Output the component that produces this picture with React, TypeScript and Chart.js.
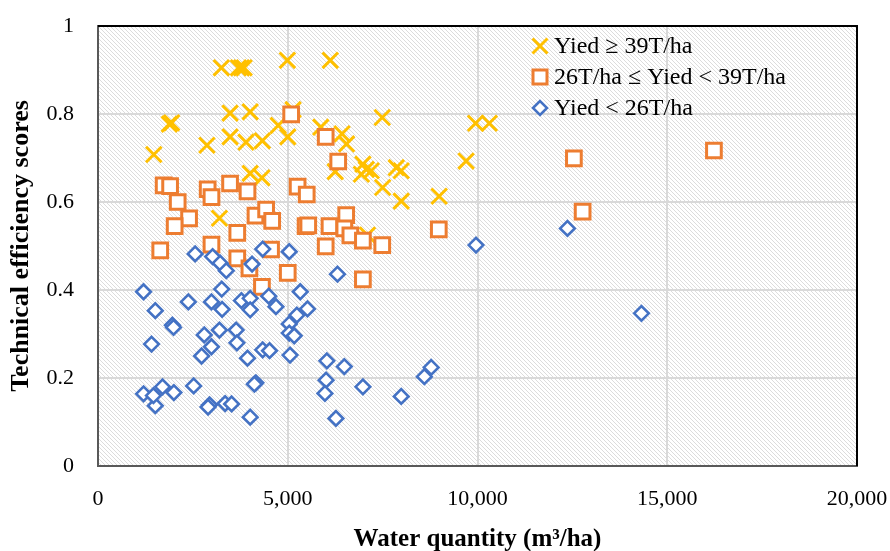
import React, { useEffect, useRef } from 'react';
import { Chart, registerables } from 'chart.js';

Chart.register(...registerables);

// ---- Data (water quantity m3/ha, technical efficiency score) ----
const highWater = [3250, 3700, 3780, 3850, 4990, 6120, 3480, 4010, 1940, 1880, 1470, 2870, 3480, 3900, 4330, 4750, 5000, 5140, 5870, 4010, 4320, 3200, 7490, 9950, 10310, 9700, 6430, 6550, 6980, 7070, 6940, 7200, 7860, 7990, 7500, 7990, 8990, 6250, 7100];
const highScore = [0.905, 0.905, 0.905, 0.905, 0.922, 0.922, 0.802, 0.805, 0.780, 0.777, 0.708, 0.729, 0.748, 0.736, 0.739, 0.774, 0.748, 0.810, 0.770, 0.665, 0.655, 0.563, 0.792, 0.779, 0.779, 0.693, 0.755, 0.732, 0.686, 0.674, 0.663, 0.671, 0.678, 0.671, 0.633, 0.602, 0.613, 0.669, 0.525];

const midWater = [5090, 6000, 6330, 1730, 1900, 2100, 2890, 2990, 3480, 3940, 5260, 5500, 2400, 2020, 3670, 4150, 4430, 4590, 5470, 5540, 6100, 6540, 6490, 6650, 6980, 7490, 6000, 8980, 1640, 2990, 3670, 3990, 4320, 4560, 5000, 6980, 12540, 16230, 12770];
const midScore = [0.799, 0.748, 0.692, 0.638, 0.636, 0.600, 0.629, 0.611, 0.642, 0.624, 0.635, 0.617, 0.563, 0.545, 0.530, 0.569, 0.583, 0.557, 0.545, 0.547, 0.545, 0.570, 0.540, 0.524, 0.512, 0.502, 0.499, 0.538, 0.490, 0.503, 0.472, 0.449, 0.407, 0.492, 0.439, 0.424, 0.699, 0.717, 0.578];

const lowWater = [2560, 3020, 3220, 3380, 4060, 4340, 5040, 6310, 1200, 1510, 2380, 3260, 2990, 3270, 3780, 4010, 4010, 4500, 4690, 5330, 5520, 1960, 1990, 2800, 3200, 3640, 2990, 2730, 3660, 1410, 3940, 4340, 4520, 5060, 5040, 5240, 5040, 5170, 6030, 6010, 5980, 4160, 4120, 1200, 1510, 1700, 2000, 1460, 2520, 2940, 2900, 3350, 3520, 4010, 9960, 6490, 6980, 7990, 8600, 8780, 6270, 12370, 14320];
const lowScore = [0.482, 0.476, 0.461, 0.444, 0.459, 0.493, 0.487, 0.436, 0.396, 0.353, 0.373, 0.402, 0.373, 0.356, 0.376, 0.381, 0.355, 0.386, 0.362, 0.396, 0.357, 0.320, 0.315, 0.298, 0.309, 0.309, 0.271, 0.250, 0.280, 0.277, 0.245, 0.264, 0.262, 0.252, 0.323, 0.343, 0.302, 0.296, 0.239, 0.195, 0.165, 0.189, 0.186, 0.164, 0.137, 0.180, 0.167, 0.160, 0.182, 0.139, 0.134, 0.142, 0.141, 0.111, 0.502, 0.226, 0.180, 0.158, 0.203, 0.224, 0.108, 0.540, 0.347];

const seriesLabels = ['Yied \u2265 39T/ha', '26T/ha \u2264 Yied < 39T/ha', 'Yied < 26T/ha'];
const xTitle = 'Water quantity (m\u00B3/ha)';
const yTitle = 'Technical efficiency scores';

const YELLOW = '#FFC000';
const ORANGE = '#ED7D31';
const BLUE = '#4472C4';
const FONT = "'Liberation Serif', 'Times New Roman', serif";

const toPoints = (xs: number[], ys: number[]) => xs.map((x, i) => ({ x, y: ys[i] }));

function makeHatch(): CanvasPattern | string {
  const c = document.createElement('canvas');
  c.width = 4;
  c.height = 4;
  const g = c.getContext('2d');
  if (!g) return '#f0f0f0';
  g.fillStyle = '#ffffff';
  g.fillRect(0, 0, 4, 4);
  g.fillStyle = '#dcdcdc';
  for (let i = 0; i < 4; i++) g.fillRect(i, i, 1, 1);
  return g.createPattern(c, 'repeat') || '#f0f0f0';
}

function drawMarker(ctx: CanvasRenderingContext2D, kind: number, x: number, y: number) {
  ctx.save();
  if (kind === 0) {
    ctx.strokeStyle = YELLOW;
    ctx.lineWidth = 3;
    const d = 7.5;
    ctx.beginPath();
    ctx.moveTo(x - d, y - d);
    ctx.lineTo(x + d, y + d);
    ctx.moveTo(x - d, y + d);
    ctx.lineTo(x + d, y - d);
    ctx.stroke();
  } else if (kind === 1) {
    ctx.strokeStyle = ORANGE;
    ctx.fillStyle = '#fff';
    ctx.lineWidth = 3;
    ctx.beginPath();
    ctx.rect(x - 7, y - 7, 14, 14);
    ctx.fill();
    ctx.stroke();
  } else {
    ctx.strokeStyle = BLUE;
    ctx.fillStyle = '#fff';
    ctx.lineWidth = 2.5;
    const r = 7;
    ctx.beginPath();
    ctx.moveTo(x - r, y);
    ctx.lineTo(x, y - r);
    ctx.lineTo(x + r, y);
    ctx.lineTo(x, y + r);
    ctx.closePath();
    ctx.fill();
    ctx.stroke();
  }
  ctx.restore();
}

export default function App() {
  const ref = useRef<HTMLCanvasElement>(null);

  useEffect(() => {
    if (!ref.current) return;
    const hatch = makeHatch();

    const plotDeco = {
      id: 'plotDeco',
      beforeDraw(chart: any) {
        const { ctx, chartArea } = chart;
        const { left, top, right, bottom } = chartArea;
        ctx.save();
        ctx.fillStyle = hatch;
        ctx.fillRect(left, top, right - left, bottom - top);
        ctx.restore();
      },
      afterDatasetsDraw(chart: any) {
        const { ctx, chartArea } = chart;
        const { left, top, right, bottom } = chartArea;
        ctx.save();
        ctx.strokeStyle = '#000';
        ctx.lineWidth = 2;
        ctx.beginPath();
        ctx.moveTo(left, top);
        ctx.lineTo(right, top);
        ctx.lineTo(right, bottom);
        ctx.stroke();
        ctx.restore();
      },
      afterDraw(chart: any) {
        const ctx: CanvasRenderingContext2D = chart.ctx;
        const mx = 540;
        const tx = 554;
        const rows = [46, 77, 108];
        ctx.save();
        ctx.font = `24px ${FONT}`;
        ctx.fillStyle = '#000';
        ctx.textBaseline = 'middle';
        ctx.textAlign = 'left';
        rows.forEach((ry, i) => {
          drawMarker(ctx, i, mx, ry);
          ctx.fillText(seriesLabels[i], tx, ry + 1);
        });
        ctx.restore();
      },
    };

    const chart = new Chart(ref.current, {
      type: 'scatter',
      data: {
        datasets: [
          {
            label: seriesLabels[0],
            data: toPoints(highWater, highScore),
            pointStyle: 'crossRot',
            pointRadius: 11,
            pointBorderWidth: 3,
            borderColor: YELLOW,
            backgroundColor: YELLOW,
            order: 3,
          },
          {
            label: seriesLabels[1],
            data: toPoints(midWater, midScore),
            pointStyle: 'rect',
            pointRadius: 10.4,
            pointBorderWidth: 3,
            borderColor: ORANGE,
            backgroundColor: '#ffffff',
            order: 2,
          },
          {
            label: seriesLabels[2],
            data: toPoints(lowWater, lowScore),
            pointStyle: 'rectRot',
            pointRadius: 7.3,
            pointBorderWidth: 2.6,
            borderColor: BLUE,
            backgroundColor: '#ffffff',
            order: 1,
          },
        ],
      } as any,
      options: {
        responsive: false,
        animation: false,
        devicePixelRatio: 1,
        layout: { padding: { left: 0, top: 26, right: 33, bottom: 0 } },
        plugins: {
          legend: { display: false },
          tooltip: { enabled: false },
        },
        scales: {
          x: {
            type: 'linear',
            min: 0,
            max: 20000,
            ticks: {
              stepSize: 5000,
              padding: 20,
              color: '#000',
              maxRotation: 0,
              font: { family: FONT, size: 22 },
            },
            grid: { color: '#d9d9d9', lineWidth: 2, drawTicks: false },
            border: { color: '#595959', width: 2 },
            title: {
              display: true,
              text: xTitle,
              color: '#000',
              font: { family: FONT, size: 25, weight: 'bold', lineHeight: 0.9 },
              padding: { top: 0, bottom: 0 },
            },
            afterFit(scale: any) {
              scale.height = 85;
              scale.paddingLeft = 0;
              scale.paddingRight = 0;
            },
          },
          y: {
            type: 'linear',
            min: 0,
            max: 1,
            ticks: {
              stepSize: 0.2,
              padding: 24,
              color: '#000',
              font: { family: FONT, size: 22 },
              callback: (v: number) => String(Number(Number(v).toFixed(1))),
            },
            grid: { color: '#d9d9d9', lineWidth: 2, drawTicks: false },
            border: { color: '#595959', width: 2 },
            title: {
              display: true,
              text: yTitle,
              color: '#000',
              font: { family: FONT, size: 26, weight: 'bold', lineHeight: 1.2 },
              padding: { top: 6, bottom: 0 },
            },
            afterFit(scale: any) {
              scale.width = 98;
              scale.paddingTop = 0;
              scale.paddingBottom = 0;
            },
          },
        },
      } as any,
      plugins: [plotDeco],
    });

    return () => chart.destroy();
  }, []);

  return (
    <div style={{ position: 'absolute', left: 0, top: 0, width: 890, height: 551 }}>
      <canvas ref={ref} width={890} height={551} style={{ display: 'block' }} />
    </div>
  );
}
